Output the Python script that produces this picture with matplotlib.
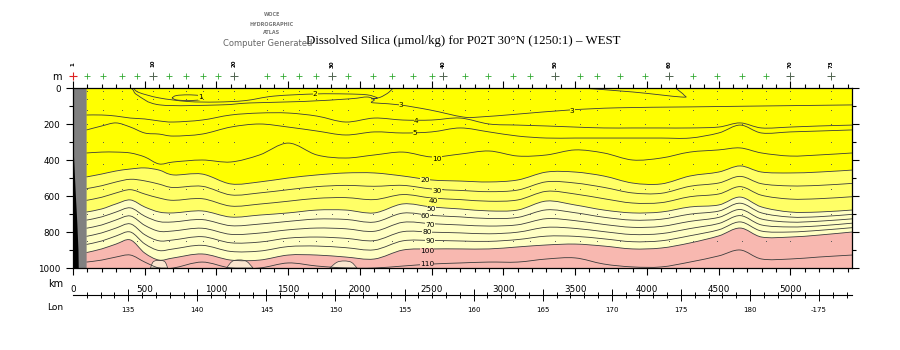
import numpy as np
import matplotlib.pyplot as plt
from matplotlib.path import Path
from matplotlib.patches import PathPatch
from matplotlib.ticker import MultipleLocator, FixedLocator, FuncFormatter

plt.rcParams['font.family'] = 'DejaVu Sans'

# ---------------- section data ----------------
# distance along the section (km) where the isoline depths were read
dist_km = [95, 200, 300, 400, 500, 600, 700, 900, 1100, 1300, 1500, 1700, 1900, 2100, 2300,
           2500, 2700, 2900, 3100, 3300, 3500, 3700, 3900, 4100, 4300, 4500, 4650, 4800, 5000,
           5200, 5430]

# depth (m) of each silica isoline at dist_km
iso_4 = [150, 150, 156, 167, 172, 183, 189, 178, 150, 139, 139, 156, 189, 167, 178, 178, 167,
         200, 206, 211, 217, 222, 222, 222, 222, 217, 194, 222, 217, 211, 206]
iso_5 = [233, 211, 194, 217, 250, 256, 267, 256, 217, 200, 217, 239, 261, 244, 250, 244, 222,
         244, 267, 278, 278, 278, 278, 278, 278, 250, 206, 250, 244, 239, 233]
iso_10 = [361, 356, 356, 361, 383, 422, 411, 400, 411, 372, 306, 372, 389, 372, 356, 383, 367,
          350, 378, 372, 344, 361, 400, 389, 356, 344, 333, 361, 378, 372, 361]
iso_20 = [494, 478, 461, 450, 444, 456, 483, 478, 533, 522, 500, 483, 472, 472, 489, 511, 517,
          522, 511, 467, 467, 489, 528, 533, 489, 467, 433, 467, 472, 467, 456]
iso_30 = [559, 543, 522, 507, 516, 534, 553, 546, 594, 583, 565, 548, 541, 546, 541, 561, 569,
          576, 567, 521, 528, 552, 583, 585, 546, 528, 491, 532, 544, 541, 530]
iso_40 = [624, 607, 583, 565, 589, 611, 624, 615, 656, 645, 629, 613, 609, 620, 592, 611, 620,
          629, 622, 574, 589, 615, 639, 637, 604, 589, 548, 596, 617, 615, 604]
iso_50 = [689, 672, 644, 622, 661, 689, 694, 683, 717, 706, 694, 678, 678, 694, 644, 661, 672,
          683, 678, 628, 650, 678, 694, 689, 661, 650, 606, 661, 689, 689, 678]
iso_60 = [734, 716, 689, 666, 712, 742, 744, 731, 765, 756, 741, 728, 730, 745, 695, 708, 716,
          725, 719, 677, 693, 718, 734, 729, 701, 684, 640, 694, 717, 715, 702]
iso_70 = [779, 761, 733, 711, 763, 796, 794, 779, 813, 806, 788, 778, 782, 796, 746, 754, 761,
          767, 760, 726, 737, 758, 774, 769, 741, 719, 675, 728, 745, 740, 727]
iso_80 = [824, 805, 778, 755, 815, 849, 844, 826, 860, 856, 834, 828, 835, 848, 798, 801, 805,
          810, 801, 774, 780, 798, 814, 809, 781, 753, 709, 761, 772, 766, 751]
iso_90 = [869, 850, 822, 800, 866, 903, 894, 874, 908, 906, 881, 878, 887, 899, 849, 847, 850,
          852, 842, 823, 824, 838, 854, 849, 821, 788, 744, 795, 800, 791, 776]
iso_100 = [914, 894, 867, 844, 917, 956, 944, 922, 956, 956, 928, 928, 939, 950, 900, 894, 894,
           894, 883, 872, 867, 878, 894, 889, 861, 822, 778, 828, 828, 817, 800]
iso_110 = [967, 956, 939, 928, 967, 1000, 1000, 967, 1000, 1000, 972, 989, 1000, 1000, 989, 978,
           972, 967, 967, 950, 944, 978, 994, 994, 967, 933, 900, 950, 950, 939, 928]

# shallow isolines with their own sampling
iso_1_km = [690, 720, 800, 880, 900, 880, 800, 720, 690]
iso_1_depth = [55, 42, 38, 42, 55, 66, 70, 66, 55]
iso_2_km = [420, 460, 600, 800, 1000, 1200, 1400, 1690, 1900, 2050, 2120, 2080, 2140, 2200, 2230]
iso_2_depth = [0, 25, 55, 75, 78, 70, 45, 33, 33, 38, 55, 60, 52, 25, 0]
iso_2b_km = [3540, 3900, 4240, 4260, 4200]
iso_2b_depth = [0, 22, 50, 40, 0]
iso_3_km = [400, 418, 450, 606, 1025, 1234, 1600, 1931, 2050, 2100, 2080, 2140, 2279, 2488,
            2718, 2837, 3100, 3464, 3800, 4300, 4800, 5430]
iso_3_depth = [0, 10, 40, 94, 94, 83, 75, 60, 50, 65, 80, 85, 94, 122, 161, 161, 145, 122, 110,
               105, 100, 94]

# small low-silica pockets on the bottom
pocket_km = [[540, 560, 600, 640, 660], [1070, 1110, 1160, 1210, 1255], [1790, 1840, 1890, 1940, 1980]]
pocket_depth = [[1000, 965, 958, 965, 1000], [1000, 963, 955, 963, 1000], [1000, 968, 961, 968, 1000]]

# land (bottom topography) at the western end
land_km = [0, 8, 20, 30, 38, 40, 0]
land_depth = [250, 400, 600, 750, 900, 1000, 1000]

# contour labels
label_text = ['1', '2', '3', '3', '4', '5', '10', '20', '30', '40', '50', '60', '70', '80', '90', '100', '110']
label_km = [886, 1688, 2287, 3480, 2392, 2385, 2538, 2455, 2538, 2510, 2497, 2455, 2490, 2469, 2490, 2469, 2469]
label_depth = [50, 33, 94, 128, 183, 250, 394, 511, 572, 628, 670, 713, 762, 802, 850, 906, 978]
label_level = [1, 2, 3, 3, 4, 5, 10, 20, 30, 40, 50, 60, 70, 80, 90, 100, 110]

# stations along the track
stn_km = [0, 98, 209, 342, 446, 558, 669, 788, 907, 1011, 1123, 1353, 1464, 1576, 1695, 1806,
          1918, 2092, 2225, 2370, 2503, 2580, 2734, 2894, 3068, 3187, 3361, 3536, 3654, 3815,
          3989, 4156, 4324, 4491, 4665, 4833, 5000, 5286]
stn_big_km = [0, 558, 1123, 1806, 2580, 3361, 4156, 5000, 5286]
stn_big_text = ['1', '10', '20', '30', '40', '50', '60', '70', '73']
bottle_depth = [15, 60, 120, 200, 300, 420, 560, 700, 850]

# longitude axis
km_per_deg = 96.3
lon_start = 131.0
lon_major = [135, 140, 145, 150, 155, 160, 165, 170, 175, 180, 185]
lon_minor = list(range(132, 188))

band_colors = ['#ffff00', '#ffff66', '#ffffc4', '#f8b8b0']
line_color = '#3c3c3c'


def smooth_verts(xs, ys):
    # cubic bezier pieces through the read points (catmull-rom style handles)
    pts = np.column_stack([xs, ys]).astype(float)
    verts = [pts[0]]
    for i in range(len(pts) - 1):
        p0 = pts[i - 1] if i > 0 else pts[i]
        p1, p2 = pts[i], pts[i + 1]
        p3 = pts[i + 2] if i + 2 < len(pts) else pts[i + 1]
        verts += [p1 + (p2 - p0) / 6, p2 - (p3 - p1) / 6, p2]
    return verts


def line_patch(xs, ys, **kw):
    v = smooth_verts(xs, ys)
    codes = [Path.MOVETO] + [Path.CURVE4] * (len(v) - 1)
    return PathPatch(Path(v, codes), fill=False, **kw)


def band_patch(upper, lower, color):
    if upper is None:
        vu = [np.array([dist_km[0], 0.0]), np.array([dist_km[-1], 0.0])]
        cu = [Path.MOVETO, Path.LINETO]
    else:
        vu = smooth_verts(dist_km, upper)
        cu = [Path.MOVETO] + [Path.CURVE4] * (len(vu) - 1)
    if lower is None:
        vl = [np.array([dist_km[-1], 1000.0]), np.array([dist_km[0], 1000.0])]
        cl = [Path.LINETO, Path.LINETO]
    else:
        vl = smooth_verts(dist_km, lower)[::-1]
        cl = [Path.LINETO] + [Path.CURVE4] * (len(vl) - 1)
    verts = vu + vl + [vu[0]]
    codes = cu + cl + [Path.CLOSEPOLY]
    return PathPatch(Path(verts, codes), facecolor=color, edgecolor='none', lw=0)


# ---------------- figure ----------------
fig = plt.figure(figsize=(9, 3.5), dpi=100)
ax = fig.add_axes([73 / 900, 82 / 350, 779 / 900, 180 / 350])

ax.axvspan(0, dist_km[0], color='#808080', lw=0, zorder=0)
ax.add_patch(band_patch(None, iso_20, band_colors[0]))
ax.add_patch(band_patch(iso_20, iso_50, band_colors[1]))
ax.add_patch(band_patch(iso_50, iso_100, band_colors[2]))
ax.add_patch(band_patch(iso_100, None, band_colors[3]))
for pk, pd in zip(pocket_km, pocket_depth):
    ax.add_patch(PathPatch(Path(smooth_verts(pk, pd) + [[pk[0], pd[0]]],
                                [Path.MOVETO] + [Path.CURVE4] * (3 * len(pk) - 3) + [Path.CLOSEPOLY]),
                           facecolor='#fbe6cf', edgecolor=line_color, lw=0.5))

for iso in [iso_4, iso_5, iso_10, iso_20, iso_30, iso_40, iso_50, iso_60, iso_70, iso_80,
            iso_90, iso_100, iso_110]:
    ax.add_patch(line_patch(dist_km, iso, edgecolor=line_color, lw=0.6))
for xs, ys in [(iso_1_km, iso_1_depth), (iso_2_km, iso_2_depth), (iso_2b_km, iso_2b_depth),
               (iso_3_km, iso_3_depth)]:
    ax.add_patch(line_patch(xs, ys, edgecolor=line_color, lw=0.6))

# sample bottles
bx, by = np.meshgrid(stn_km[1:], bottle_depth)
ax.scatter(bx.ravel(), by.ravel(), s=0.5, color='#555555', lw=0, zorder=3)

ax.fill(land_km, land_depth, color='black', lw=0, zorder=4)


def band_of(level):
    if level < 20:
        return band_colors[0]
    if level < 50:
        return band_colors[1]
    if level < 100:
        return band_colors[2]
    return band_colors[3]


for t, k, d, lv in zip(label_text, label_km, label_depth, label_level):
    ax.text(k, d, t, fontsize=5.3, ha='center', va='center', zorder=5,
            bbox=dict(facecolor=band_of(lv), edgecolor='none', pad=0.02))

ax.set_xlim(0, dist_km[-1])
ax.set_ylim(1000, 0)

ax.xaxis.set_major_locator(MultipleLocator(500))
ax.xaxis.set_minor_locator(MultipleLocator(100))
ax.yaxis.set_major_locator(MultipleLocator(200))
ax.yaxis.set_minor_locator(MultipleLocator(100))
ax.tick_params(which='both', direction='out', top=True, right=True, width=0.8, labelsize=6.3)
ax.tick_params(which='major', length=5)
ax.tick_params(which='minor', length=3)
ax.tick_params(axis='x', pad=7)
ax.tick_params(axis='y', pad=4)
for sp in ax.spines.values():
    sp.set_linewidth(0.9)


def km2lon(k):
    return lon_start + np.asarray(k) / km_per_deg


def lon2km(lon):
    return (np.asarray(lon) - lon_start) * km_per_deg


sec = ax.secondary_xaxis(-0.15, functions=(km2lon, lon2km))
sec.xaxis.set_major_locator(FixedLocator(lon_major))
sec.xaxis.set_minor_locator(FixedLocator(lon_minor))
sec.xaxis.set_major_formatter(FuncFormatter(lambda v, p: f"{v:.0f}" if v <= 180 else f"-{360 - v:.0f}"))
sec.tick_params(which='both', direction='inout', labelsize=5, pad=5, width=0.7)
sec.tick_params(which='major', length=8)
sec.tick_params(which='minor', length=5)
sec.spines['bottom'].set_linewidth(0.8)

# station marks above the section
trans = ax.get_xaxis_transform()
ax.plot(stn_km[1:], [1.067] * (len(stn_km) - 1), '+', color='#33aa33', ms=4, mew=0.6,
        transform=trans, clip_on=False)
ax.plot(stn_big_km[1:], [1.067] * (len(stn_big_km) - 1), '+', color='#556655', ms=6, mew=0.7,
        transform=trans, clip_on=False)
ax.plot(stn_big_km[:1], [1.067], '+', color='#dd2222', ms=6, mew=0.8, transform=trans, clip_on=False)
for k, t in zip(stn_big_km, stn_big_text):
    ax.text(k, 1.135, t, fontsize=4, rotation=90, ha='center', va='center', transform=trans,
            fontweight='bold')

fig.text(62 / 900, 1 - 77 / 350, 'm', fontsize=7, ha='right', va='center')
fig.text(63 / 900, 1 - 284 / 350, 'km', fontsize=7, ha='right', va='center')
fig.text(63 / 900, 1 - 308 / 350, 'Lon', fontsize=6.5, ha='right', va='center')

# title and atlas tag
fig.text(306 / 900, 1 - 41 / 350, 'Dissolved Silica (\u03bcmol/kg) for P02T 30\u00b0N (1250:1) \u2013 WEST',
         fontsize=9.3, family='Liberation Serif', ha='left', va='center')
for txt, yy in [('WOCE', 15), ('HYDROGRAPHIC', 24), ('ATLAS', 33)]:
    fig.text(272 / 900, 1 - yy / 350, txt, fontsize=3.5, color='#777777', fontweight='bold',
             ha='center', va='center')
fig.text(268 / 900, 1 - 44 / 350, 'Computer Generated', fontsize=6, color='#666666',
         ha='center', va='center')

fig.savefig('out.png', dpi=100)
